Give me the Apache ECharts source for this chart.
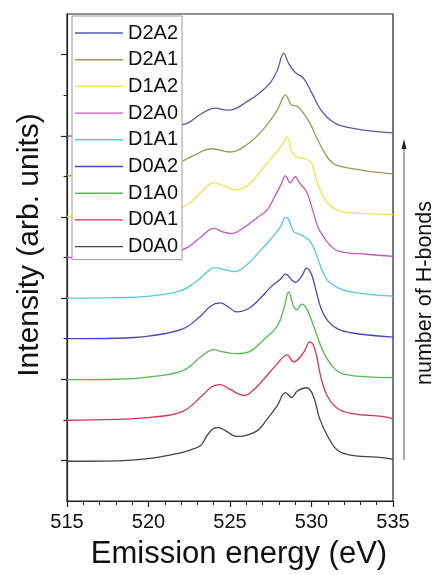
<!DOCTYPE html>
<html>
<head>
<meta charset="utf-8">
<script src="https://cdn.jsdelivr.net/npm/echarts@6/dist/echarts.min.js"></script>
<style>
html,body{margin:0;padding:0;background:#fff;}
#chart{width:435px;height:575px;}
</style>
</head>
<body>
<div id="chart"></div>
<script>
// Energy (eV) / stacked intensity (arb. units) pairs
const D0A0 = [[515,0.98],[518,0.99],[520.1,1.05],[521.3,1.13],[522.5,1.25],[523.2,1.37],[523.6,1.62],[524.0,1.79],[524.3,1.81],[524.7,1.74],[525.4,1.59],[526.0,1.62],[526.7,1.74],[527.3,2.03],[527.9,2.35],[528.4,2.67],[528.8,2.55],[529.1,2.70],[529.7,2.79],[530.1,2.60],[530.5,2.03],[531.0,1.59],[531.6,1.25],[532.4,1.13],[534.0,1.08],[535,1.03]];
const D0A1 = [[515,1.99],[518,2.01],[520.1,2.06],[522.1,2.21],[523.3,2.60],[523.9,2.82],[524.4,2.87],[525.0,2.75],[525.9,2.60],[526.4,2.72],[527.0,2.97],[527.9,3.38],[528.5,3.60],[528.9,3.43],[529.5,3.65],[529.9,3.92],[530.2,3.75],[530.6,3.01],[531.0,2.57],[531.6,2.28],[532.4,2.16],[534.4,2.08],[535,2.03]];
const D1A0 = [[515,2.99],[518,3.00],[520.1,3.06],[522.1,3.21],[523.3,3.58],[524.0,3.73],[524.5,3.68],[525.4,3.63],[526.2,3.68],[527.0,3.95],[527.9,4.31],[528.3,4.73],[528.6,5.15],[528.9,4.80],[529.1,4.71],[529.4,4.85],[529.6,4.80],[529.9,4.56],[530.3,4.12],[530.7,3.70],[531.3,3.31],[531.9,3.14],[533.4,3.06],[535,3.04]];
const D0A2 = [[515,4.00],[518,4.01],[520.1,4.07],[522.1,4.24],[523.2,4.56],[523.8,4.80],[524.4,4.88],[524.9,4.78],[525.4,4.66],[526.1,4.73],[526.7,4.93],[527.5,5.27],[528.1,5.47],[528.4,5.59],[529.0,5.39],[529.4,5.54],[529.7,5.74],[530.0,5.59],[530.3,5.15],[530.6,4.73],[531.0,4.44],[531.6,4.24],[532.5,4.14],[535,4.04]];
const D1A1 = [[515,5.00],[518,5.01],[520.1,5.05],[521.9,5.17],[522.7,5.34],[523.6,5.64],[524.0,5.75],[524.6,5.71],[525.3,5.65],[526.0,5.81],[526.8,6.14],[527.6,6.50],[528.1,6.76],[528.4,6.99],[528.6,6.94],[528.9,6.64],[529.3,6.57],[529.8,6.45],[530.1,6.27],[530.4,5.96],[530.7,5.64],[531.1,5.39],[532.2,5.17],[535,5.05]];
const D2A0 = [[515,6.00],[518,6.02],[520.1,6.05],[521.5,6.13],[522.4,6.25],[523.2,6.50],[524.0,6.72],[524.5,6.64],[525.1,6.59],[525.8,6.72],[526.7,6.99],[527.3,7.18],[527.8,7.55],[528.1,7.77],[528.4,8.01],[528.7,7.84],[529.0,7.99],[529.3,7.82],[529.7,7.62],[530.1,7.13],[530.4,6.74],[530.7,6.54],[531.1,6.32],[531.7,6.15],[533.4,6.08],[535,6.03]];
const D1A2 = [[515,7.01],[518,7.02],[520.1,7.06],[521.5,7.16],[522.4,7.30],[523.2,7.60],[524.0,7.84],[524.6,7.77],[525.3,7.67],[526.0,7.75],[526.8,8.09],[527.6,8.48],[528.2,8.77],[528.5,8.97],[528.8,8.60],[529.1,8.48],[529.6,8.43],[530.0,8.33],[530.3,7.92],[530.6,7.60],[531.1,7.30],[531.9,7.13],[533.4,7.08],[535,7.06]];
const D2A1 = [[515,8.01],[518,8.03],[520.1,8.06],[521.0,8.14],[521.9,8.33],[522.7,8.50],[523.9,8.68],[525.0,8.60],[526.0,8.77],[527.0,9.14],[527.9,9.63],[528.4,10.00],[528.8,9.75],[529.1,9.73],[529.5,9.56],[529.9,9.31],[530.3,8.97],[530.7,8.65],[531.3,8.33],[532.2,8.21],[535,8.06]];
const D2A2 = [[515,8.99],[518,9.01],[520.1,9.04],[521.0,9.14],[521.9,9.26],[522.4,9.31],[523.2,9.53],[524.1,9.68],[524.8,9.63],[525.3,9.66],[526.0,9.83],[526.8,10.05],[527.5,10.32],[527.9,10.61],[528.3,11.03],[528.6,10.78],[529.0,10.56],[529.5,10.42],[530.0,10.07],[530.5,9.68],[531.0,9.44],[531.7,9.26],[533.2,9.14],[535,9.07]];

const seriesNames = ['D2A2','D2A1','D1A2','D2A0','D1A1','D0A2','D1A0','D0A1','D0A0'];
const seriesData = [D2A2, D2A1, D1A2, D2A0, D1A1, D0A2, D1A0, D0A1, D0A0];
const seriesColors = ['#5a5aa6','#9a9a5a','#e8e84a','#cc55bb','#55cccc','#4848bb','#55bb55','#dd3355','#444444'];
const xTicks = [515, 520, 525, 530, 535];
const yMajorTicks = [1, 3, 5, 7, 9, 11];
const yMinorTicks = [2, 4, 6, 8, 10];

const FONT = '"Liberation Sans", Arial, sans-serif';
const chart = echarts.init(document.getElementById('chart'), null, {renderer: 'canvas'});

const series = seriesNames.map((n, i) => ({
  name: n,
  type: 'line',
  data: seriesData[i],
  symbol: 'none',
  smooth: 0.4,
  color: seriesColors[i],
  lineStyle: {width: 1.3, color: seriesColors[i]},
  z: 2
}));

chart.setOption({
  animation: false,
  backgroundColor: '#fff',
  grid: {left: 67, right: 42, top: 14, bottom: 72, show: true, borderColor: '#222', borderWidth: 1.2, backgroundColor: 'transparent'},
  legend: {
    data: seriesNames,
    orient: 'vertical',
    left: 72, top: 16,
    padding: [7, 4, 3, 3],
    icon: 'rect',
    itemWidth: 48, itemHeight: 1.4, itemGap: 6.7,
    backgroundColor: '#fff',
    borderColor: '#9a9a9a', borderWidth: 1,
    textStyle: {fontFamily: FONT, fontSize: 20, color: '#111', lineHeight: 20},
    z: 10
  },
  xAxis: {
    type: 'value', min: 515, max: 535, interval: 5,
    name: 'Emission energy (eV)', nameLocation: 'middle', nameGap: 38,
    nameTextStyle: {fontFamily: FONT, fontSize: 31, color: '#111', padding: [0, 0, 0, 18]},
    axisLine: {show: true, lineStyle: {color: '#222', width: 1.2}},
    axisTick: {show: true, length: 6, inside: false, lineStyle: {color: '#222', width: 1.2}},
    minorTick: {show: true, splitNumber: 5, length: 4, lineStyle: {color: '#222', width: 1}},
    axisLabel: {fontFamily: FONT, fontSize: 20, color: '#111', margin: 11,
      customValues: xTicks},
    splitLine: {show: false}
  },
  yAxis: [{
    type: 'value', min: 0, max: 12,
    axisLine: {show: true, lineStyle: {color: '#222', width: 1.2}},
    axisTick: {show: true, length: 6, inside: false, customValues: yMajorTicks, lineStyle: {color: '#222', width: 1.2}},
    axisLabel: {show: false},
    splitLine: {show: false}
  }, {
    type: 'value', min: 0, max: 12, position: 'left',
    axisLine: {show: false},
    axisTick: {show: true, length: 3.5, inside: false, customValues: yMinorTicks, lineStyle: {color: '#222', width: 1}},
    axisLabel: {show: false},
    splitLine: {show: false}
  }],
  graphic: [
    {type: 'text', x: 30, y: 245, rotation: Math.PI / 2,
      style: {text: 'Intensity (arb. units)', fontFamily: FONT, fontSize: 30, fill: '#111', align: 'center', verticalAlign: 'middle'}},
    {type: 'text', x: 425, y: 293, rotation: Math.PI / 2,
      style: {text: 'number of H-bonds', fontFamily: FONT, fontSize: 21.5, fill: '#111', align: 'center', verticalAlign: 'middle'}},
    {type: 'line', shape: {x1: 404, y1: 460, x2: 404, y2: 146}, style: {stroke: '#555', lineWidth: 1}},
    {type: 'polygon', shape: {points: [[404, 139], [401.5, 149], [406.5, 149]]}, style: {fill: '#222'}}
  ],
  series: series
});
</script>
</body>
</html>
